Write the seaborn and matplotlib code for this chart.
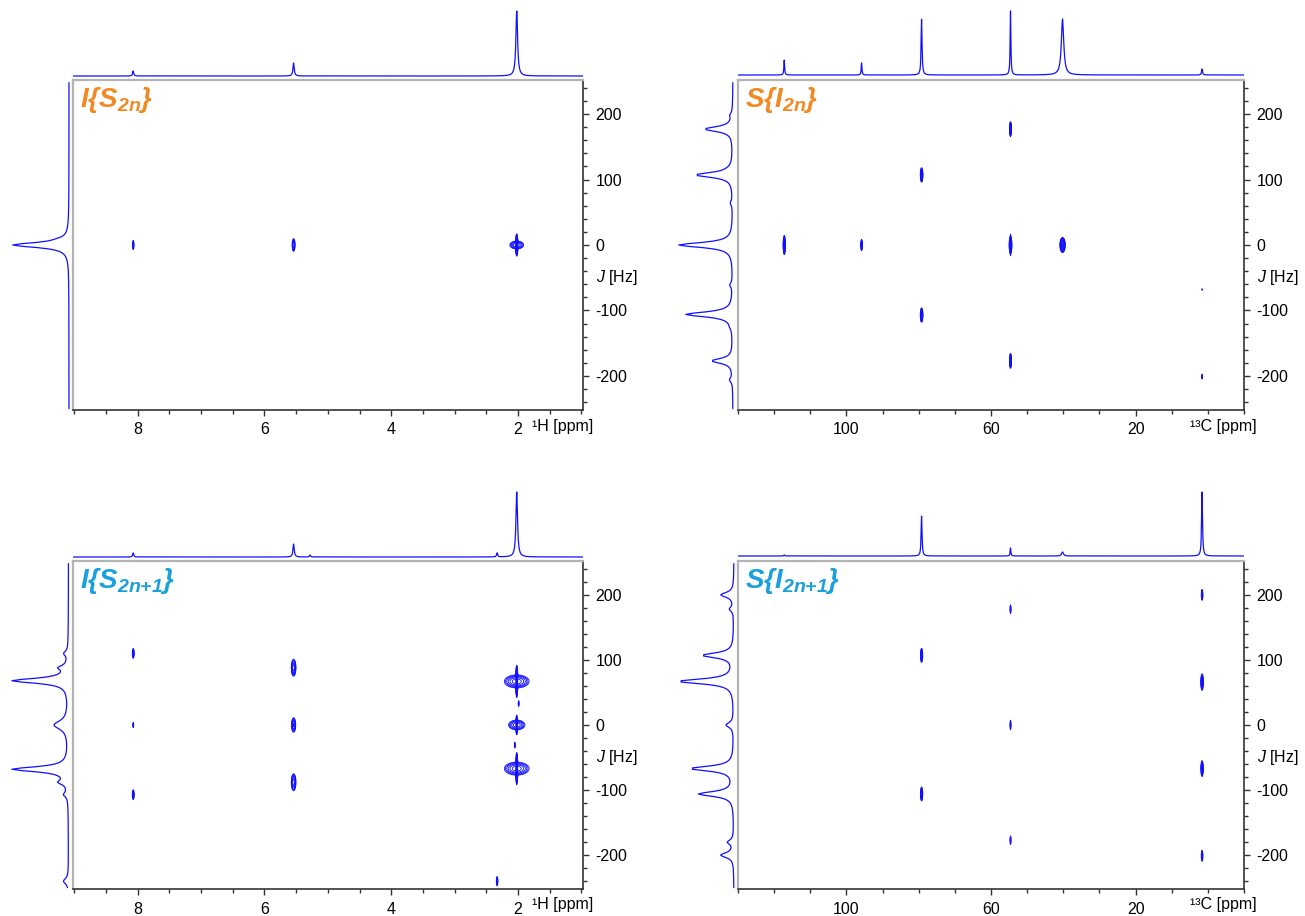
import numpy as np
import matplotlib
matplotlib.use("Agg")
import matplotlib.pyplot as plt
from matplotlib.ticker import MultipleLocator, FixedLocator
import seaborn as sns

# ---------------- Panel A : I{S2n} (1H) ----------------
a_top_ppm = [8.07, 5.54, 2.02]
a_top_height = [5, 13, 65]
a_top_hwhm = [0.010, 0.012, 0.016]
a_proj_J = [9, 0]
a_proj_int = [3, 56]
a_proj_hwhm = [3.0, 4.5]
a_pk_ppm = [8.07, 5.54, 2.02, 2.02]
a_pk_J = [0, 0, 0, 0]
a_pk_amp = [6, 10, 40, 12]
a_pk_sx = [0.006, 0.011, 0.007, 0.049]
a_pk_sJ = [3.7, 4.5, 6.3, 2.7]

# ---------------- Panel B : S{I2n} (13C) ----------------
b_top_ppm = [117.2, 95.8, 79.2, 54.6, 40.2, 1.6]
b_top_height = [15, 12, 56, 64, 56, 6]
b_top_hwhm = [0.12, 0.12, 0.15, 0.12, 0.40, 0.15]
b_proj_J = [198, 177, 117, 107, 64, 0, -61, -106, -125, -177, -206]
b_proj_int = [2, 28, 1, 37, 2, 54, 2.5, 47, 1, 21, 3]
b_proj_hwhm = [4, 4.5, 4, 4.5, 4, 4.5, 4, 4.5, 4, 4.5, 4]
b_pk_ppm = [54.6, 79.2, 117.2, 95.8, 54.6, 54.6, 40.2, 79.2, 54.6, 1.6, 1.6]
b_pk_J = [177, 107, 0, 0, 0, 0, 0, -107, -177, -201, -68]
b_pk_amp = [15, 20, 20, 8, 25, 2, 80, 20, 15, 3, 1.3]
b_pk_sx = [0.12, 0.15, 0.13, 0.12, 0.15, 0.05, 0.25, 0.15, 0.12, 0.10, 0.10]
b_pk_sJ = [4.9, 4.5, 6.0, 4.2, 5.5, 12, 3.9, 4.5, 4.9, 2.5, 2.0]

# ---------------- Panel C : I{S2n+1} (1H) ----------------
c_top_ppm = [8.07, 5.54, 5.28, 2.33, 2.02]
c_top_height = [4, 13, 2, 4, 65]
c_top_hwhm = [0.010, 0.012, 0.010, 0.010, 0.015]
c_proj_J = [110, 88, 68, 0, -68, -88, -107, -240]
c_proj_int = [4, 8, 56, 14, 56, 8, 4, 5]
c_proj_hwhm = [4, 4, 4.5, 8, 4.5, 4, 4, 5]
c_pk_ppm = [8.07, 8.07, 8.07, 5.54, 5.54, 5.54, 2.02, 2.02, 2.02, 2.02, 2.02, 2.02, 1.99, 2.05, 2.33]
c_pk_J = [110, 0, -107, 88, 0, -88, 67, 67, 0, 0, -67, -67, 33, -31, -240]
c_pk_amp = [6, 2.5, 6, 15, 12, 15, 60, 15, 25, 10, 60, 15, 3, 3, 5]
c_pk_sx = [0.008, 0.006, 0.008, 0.016, 0.015, 0.016, 0.006, 0.084, 0.006, 0.06, 0.006, 0.084, 0.005, 0.005, 0.007]
c_pk_sJ = [4, 3, 4, 5.6, 5, 5.6, 8.7, 4.3, 6, 3.5, 8.7, 4.3, 3, 3, 4]

# ---------------- Panel D : S{I2n+1} (13C) ----------------
d_top_ppm = [117.2, 79.2, 54.6, 40.2, 1.6]
d_top_height = [1, 40, 8, 4, 64]
d_top_hwhm = [0.15, 0.15, 0.12, 0.30, 0.15]
d_proj_J = [200, 178, 107, 67, 0, -67, -106, -180, -200]
d_proj_int = [13, 4, 31, 55, 7.5, 43, 35, 6, 13]
d_proj_hwhm = [4.5, 4, 4.5, 4.5, 4.5, 4.5, 4.5, 4, 4.5]
d_pk_ppm = [1.6, 54.6, 79.2, 1.6, 54.6, 1.6, 79.2, 54.6, 1.6]
d_pk_J = [200, 178, 107, 66, 0, -67, -106, -177, -201]
d_pk_amp = [6, 4, 10, 15, 4, 12, 10, 4, 6]
d_pk_sx = [0.12, 0.08, 0.15, 0.15, 0.08, 0.15, 0.15, 0.08, 0.12]
d_pk_sJ = [4.5, 4, 5, 5.5, 4.5, 5.5, 5, 4, 4.5]

titles = [r"$\mathbf{I\{S_{2n}\}}$", r"$\mathbf{S\{I_{2n}\}}$",
          r"$\mathbf{I\{S_{2n{+}1}\}}$", r"$\mathbf{S\{I_{2n{+}1}\}}$"]
title_colors = ["#F28A24", "#F28A24", "#1AA0DC", "#1AA0DC"]
x_labels = ["\u00b9H [ppm]", "\u00b9\u00b3C [ppm]", "\u00b9H [ppm]", "\u00b9\u00b3C [ppm]"]
h_ticks = [8, 6, 4, 2]
c_ticks = [100, 60, 20]
j_ticks = [-200, -100, 0, 100, 200]

# ---------------- style ----------------
sns.set_theme(style="white")
plt.rcParams["font.family"] = ["Liberation Sans", "DejaVu Sans"]
plt.rcParams["axes.unicode_minus"] = False
plt.rcParams["mathtext.fontset"] = "custom"
plt.rcParams["mathtext.rm"] = "Liberation Sans:bold:italic"
plt.rcParams["mathtext.it"] = "Liberation Sans:italic"
plt.rcParams["mathtext.bf"] = "Liberation Sans:bold:italic"

LINE = "#1010FF"
W, H = 1305, 916
fig = plt.figure(figsize=(W / 100, H / 100), dpi=100)


def px_axes(x0, y0, x1, y1):
    return fig.add_axes([x0 / W, 1 - y1 / H, (x1 - x0) / W, (y1 - y0) / H])


def lorentz_sum(grid, centers, heights, hwhm):
    out = np.zeros_like(grid)
    for c, h, g in zip(centers, heights, hwhm):
        out += h * g ** 2 / (g ** 2 + (grid - c) ** 2)
    return out


def gauss2d(xg, jg, ppm, J, amp, sx, sJ):
    Z = np.zeros((jg.size, xg.size))
    for p, j, a, s1, s2 in zip(ppm, J, amp, sx, sJ):
        gx = np.exp(-0.5 * ((xg - p) / s1) ** 2)
        gj = np.exp(-0.5 * ((jg - j) / s2) ** 2)
        Z += a * np.outer(gj, gx)
    return Z


panels = [
    dict(main=(73, 80, 583, 410), top=(73, 0, 583, 78), top_ylim=(-2, 76),
         proj=(0, 80, 73, 410), proj_xlim=(69, -4), xlim=(9.02, 0.975),
         xticks=h_ticks, xminor=0.5,
         top_data=(a_top_ppm, a_top_height, a_top_hwhm),
         proj_data=(a_proj_J, a_proj_int, a_proj_hwhm),
         pk=(a_pk_ppm, a_pk_J, a_pk_amp, a_pk_sx, a_pk_sJ)),
    dict(main=(738, 80, 1244, 410), top=(738, 0, 1244, 78), top_ylim=(-3, 75),
         proj=(655, 80, 738, 410), proj_xlim=(78, -5), xlim=(130.0, -10.0),
         xticks=c_ticks, xminor=10,
         top_data=(b_top_ppm, b_top_height, b_top_hwhm),
         proj_data=(b_proj_J, b_proj_int, b_proj_hwhm),
         pk=(b_pk_ppm, b_pk_J, b_pk_amp, b_pk_sx, b_pk_sJ)),
    dict(main=(73, 561, 583, 889), top=(73, 480, 583, 561), top_ylim=(-4, 77),
         proj=(0, 561, 73, 889), proj_xlim=(68.5, -4.5), xlim=(9.02, 0.975),
         xticks=h_ticks, xminor=0.5,
         top_data=(c_top_ppm, c_top_height, c_top_hwhm),
         proj_data=(c_proj_J, c_proj_int, c_proj_hwhm),
         pk=(c_pk_ppm, c_pk_J, c_pk_amp, c_pk_sx, c_pk_sJ)),
    dict(main=(738, 561, 1244, 889), top=(738, 480, 1244, 561), top_ylim=(-5, 76),
         proj=(655, 561, 738, 889), proj_xlim=(79, -4), xlim=(130.0, -10.0),
         xticks=c_ticks, xminor=10,
         top_data=(d_top_ppm, d_top_height, d_top_hwhm),
         proj_data=(d_proj_J, d_proj_int, d_proj_hwhm),
         pk=(d_pk_ppm, d_pk_J, d_pk_amp, d_pk_sx, d_pk_sJ)),
]

JLIM = (-252, 252)
levels = 1.0 * 1.6 ** np.arange(0, 12)

for i, p in enumerate(panels):
    x_lo, x_hi = min(p["xlim"]), max(p["xlim"])

    # ---- 2D contour panel ----
    ax = px_axes(*p["main"])
    xg = np.linspace(x_lo, x_hi, 3000)
    jg = np.linspace(JLIM[0], JLIM[1], 505)
    Z = gauss2d(xg, jg, *p["pk"])
    ax.contour(xg, jg, Z, levels=levels, colors=LINE, linewidths=0.6)
    ax.set_xlim(*p["xlim"])
    ax.set_ylim(*JLIM)
    ax.xaxis.set_major_locator(FixedLocator(p["xticks"]))
    ax.xaxis.set_minor_locator(MultipleLocator(p["xminor"]))
    ax.yaxis.set_major_locator(FixedLocator(j_ticks))
    ax.yaxis.set_minor_locator(MultipleLocator(20))
    ax.yaxis.tick_right()
    ax.tick_params(axis="both", which="both", direction="out", color="#333333",
                   width=1.0, labelsize=11.5, labelcolor="black", pad=5)
    ax.tick_params(which="major", length=4)
    ax.tick_params(which="minor", length=3)
    ax.tick_params(axis="y", which="both", left=False, right=True,
                   labelleft=False, labelright=True)
    ax.tick_params(axis="x", which="both", bottom=True, top=False)
    ax.set_xlabel("")
    ax.set_ylabel("")
    for s in ["left", "top"]:
        ax.spines[s].set_color("#B4B4B4")
        ax.spines[s].set_linewidth(1.6)
    for s in ["right", "bottom"]:
        ax.spines[s].set_color("#333333")
        ax.spines[s].set_linewidth(1.2)
    ax.text(0.014, 0.985, titles[i], transform=ax.transAxes, ha="left", va="top",
            fontsize=20, color=title_colors[i])
    x0, y0, x1, y1 = p["main"]
    lab_x = (532 - 73) / 510 if i % 2 == 0 else (1190 - 738) / 506
    ax.text(lab_x, -16 / (y1 - y0), x_labels[i], transform=ax.transAxes,
            ha="left", va="center", fontsize=11.5, color="black")
    ax.text(1 + 13 / (x1 - x0), -50, r"$J$ [Hz]", transform=ax.get_yaxis_transform(),
            ha="left", va="center", fontsize=11.5, color="black")

    # ---- top 1D spectrum ----
    axt = px_axes(*p["top"])
    xt = np.linspace(x_lo, x_hi, 8000)
    yt = lorentz_sum(xt, *p["top_data"])
    sns.lineplot(x=xt, y=yt, ax=axt, color=LINE, linewidth=0.9, sort=False,
                 estimator=None, legend=False)
    axt.set_xlim(*p["xlim"])
    axt.set_ylim(*p["top_ylim"])
    axt.set_axis_off()

    # ---- left projection ----
    axp = px_axes(*p["proj"])
    jp = np.linspace(-250, 248, 250)
    ip = lorentz_sum(jp, *p["proj_data"])
    sns.lineplot(x=ip, y=jp, ax=axp, color=LINE, linewidth=0.9, sort=False,
                 estimator=None, legend=False)
    axp.set_xlim(*p["proj_xlim"])
    axp.set_ylim(*JLIM)
    axp.set_axis_off()

fig.savefig("out.png", dpi=100)
